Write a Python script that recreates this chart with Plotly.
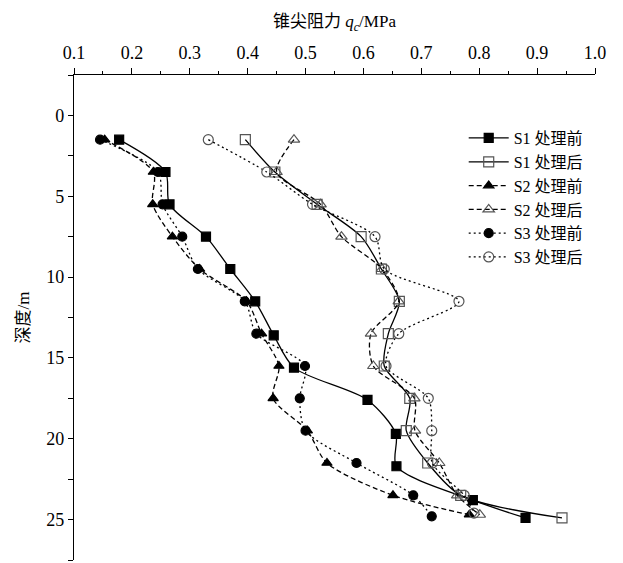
import plotly.graph_objects as go

# depth (m) and cone resistance qc (MPa)
d_s1b = [1.5, 3.5, 5.5, 7.5, 9.5, 11.5, 13.6, 15.6, 17.6, 19.7, 21.7, 23.8, 24.9]
s1b = [0.178, 0.258, 0.265, 0.328, 0.370, 0.413, 0.445, 0.480, 0.607, 0.656, 0.657, 0.789, 0.880]

d_s1a = [1.5, 3.5, 5.5, 7.5, 9.5, 11.5, 13.5, 15.5, 17.5, 19.5, 21.5, 23.5, 24.9]
s1a = [0.396, 0.447, 0.520, 0.596, 0.631, 0.662, 0.643, 0.636, 0.680, 0.674, 0.711, 0.768, 0.943]

d_s2b = [1.5, 3.5, 5.5, 7.5, 9.5, 11.5, 13.5, 15.5, 17.5, 19.5, 21.5, 23.5, 24.7]
s2b = [0.153, 0.237, 0.236, 0.270, 0.317, 0.398, 0.424, 0.454, 0.444, 0.503, 0.537, 0.651, 0.783]

d_s2a = [1.5, 3.5, 5.5, 7.5, 9.5, 11.5, 13.5, 15.5, 17.5, 19.5, 21.5, 23.5, 24.7]
s2a = [0.480, 0.450, 0.526, 0.562, 0.632, 0.661, 0.613, 0.617, 0.688, 0.689, 0.731, 0.762, 0.801]

d_s3b = [1.5, 3.5, 5.5, 7.5, 9.5, 11.5, 13.5, 15.5, 17.5, 19.5, 21.5, 23.5, 24.8]
s3b = [0.145, 0.245, 0.253, 0.287, 0.314, 0.395, 0.415, 0.499, 0.490, 0.500, 0.588, 0.686, 0.718]

d_s3a = [1.5, 3.5, 5.5, 7.5, 9.5, 11.5, 13.5, 15.5, 17.5, 19.5, 21.5, 23.5, 24.6]
s3a = [0.332, 0.433, 0.512, 0.620, 0.636, 0.765, 0.661, 0.639, 0.712, 0.718, 0.719, 0.774, 0.791]

names = ["S1 处理前", "S1 处理后", "S2 处理前", "S2 处理后", "S3 处理前", "S3 处理后"]

FONT = "Liberation Serif, Times New Roman, Noto Sans CJK SC, serif"

series = [
    (s1b, d_s1b, "solid", "square", True),
    (s1a, d_s1a, "solid", "square-open", False),
    (s2b, d_s2b, "5px,3px", "triangle-up", True),
    (s2a, d_s2a, "5px,3px", "triangle-up-open", False),
    (s3b, d_s3b, "2px,3px", "circle", True),
    (s3a, d_s3a, "2px,3px", "circle-open", False),
]

fig = go.Figure()
for (xv, dv, dash, sym, filled), nm in zip(series, names):
    fig.add_trace(go.Scatter(
        x=xv, y=dv, name=nm, mode="lines+markers",
        line=dict(color="black", width=1.3, dash=dash, shape="spline", smoothing=0.8),
        marker=dict(symbol=sym, size=9 if filled else 10,
                    color="black" if filled else "#555555",
                    line=dict(width=1.2, color="black" if filled else "#555555")),
    ))

fig.update_layout(
    width=623, height=563,
    margin=dict(l=74, r=28, t=75, b=3),
    paper_bgcolor="white", plot_bgcolor="white",
    font=dict(family=FONT, size=18, color="black"),
    showlegend=True,
    legend=dict(x=0.748, y=0.905, xanchor="left", yanchor="top",
                bgcolor="rgba(0,0,0,0)", font=dict(size=16, family=FONT),
                itemwidth=40, tracegroupgap=0),
)
fig.update_xaxes(
    side="top", range=[0.1, 1.0], tickmode="linear", tick0=0.1, dtick=0.1,
    tickformat=".1f", showgrid=False, zeroline=False,
    showline=True, linecolor="black", linewidth=1.2,
    ticks="outside", ticklen=6, tickcolor="black", tickwidth=1.2,
    minor=dict(ticks="outside", ticklen=3, dtick=0.05, tick0=0.1, tickcolor="black", tickwidth=1.2),
    title=dict(text="锥尖阻力 <i>q</i><sub><i>c</i></sub>/MPa", font=dict(size=17), standoff=10),
    tickfont=dict(size=18), ticklabelstandoff=2,
)
fig.update_yaxes(
    range=[27.5, -2.5], tickmode="linear", tick0=0, dtick=5,
    showgrid=False, zeroline=False,
    showline=True, linecolor="black", linewidth=1.2,
    ticks="outside", ticklen=5, tickcolor="black", tickwidth=1.2,
    minor=dict(ticks="outside", ticklen=5, dtick=2.5, tick0=0, tickcolor="black", tickwidth=1.2),
    title=dict(text="深度/m", font=dict(size=17), standoff=12),
    tickfont=dict(size=18),
)

fig.write_html("out.html")
